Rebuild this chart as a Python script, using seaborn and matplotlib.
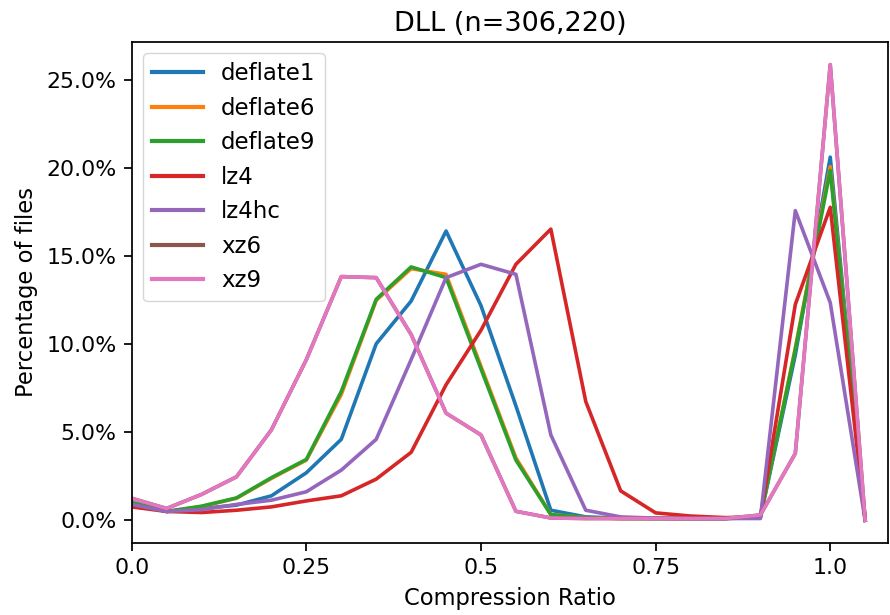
import matplotlib
matplotlib.use("Agg")
import matplotlib.pyplot as plt
from matplotlib.ticker import PercentFormatter
import seaborn as sns
import pandas as pd

ratios = [0.0, 0.05, 0.1, 0.15, 0.2, 0.25, 0.3, 0.35, 0.4, 0.45, 0.5,
          0.55, 0.6, 0.65, 0.7, 0.75, 0.8, 0.85, 0.9, 0.95, 1.0, 1.05]

deflate1 = [1.0, 0.5, 0.67, 0.86, 1.39, 2.7, 4.6, 10.03, 12.46, 16.44, 12.2,
            6.5, 0.57, 0.19, 0.12, 0.1, 0.1, 0.1, 0.15, 9.4, 20.64, 0.0]
deflate6 = [1.0, 0.5, 0.78, 1.25, 2.38, 3.42, 7.15, 12.5, 14.3, 13.98, 8.75,
            3.55, 0.33, 0.15, 0.1, 0.1, 0.1, 0.1, 0.2, 9.8, 20.1, 0.0]
deflate9 = [1.0, 0.5, 0.8, 1.27, 2.42, 3.46, 7.32, 12.56, 14.4, 13.79, 8.6,
            3.42, 0.32, 0.15, 0.1, 0.1, 0.1, 0.1, 0.2, 9.7, 19.88, 0.0]
lz4 = [0.76, 0.5, 0.44, 0.57, 0.76, 1.1, 1.39, 2.34, 3.86, 7.7, 10.8,
       14.55, 16.55, 6.75, 1.67, 0.42, 0.24, 0.15, 0.2, 12.27, 17.79, 0.0]
lz4hc = [0.9, 0.5, 0.6, 0.9, 1.14, 1.62, 2.85, 4.6, 9.13, 13.79, 14.55,
         13.98, 4.85, 0.57, 0.19, 0.12, 0.1, 0.1, 0.1, 17.6, 12.37, 0.0]
xz6 = [1.25, 0.67, 1.47, 2.47, 5.14, 9.13, 13.85, 13.79, 10.56, 6.09, 4.85,
       0.51, 0.13, 0.1, 0.1, 0.1, 0.1, 0.1, 0.3, 3.8, 25.9, 0.0]
xz9 = [1.25, 0.67, 1.47, 2.47, 5.14, 9.13, 13.85, 13.79, 10.56, 6.09, 4.85,
       0.51, 0.13, 0.1, 0.1, 0.1, 0.1, 0.1, 0.3, 3.8, 25.9, 0.0]

names = ["deflate1", "deflate6", "deflate9", "lz4", "lz4hc", "xz6", "xz9"]
series = [deflate1, deflate6, deflate9, lz4, lz4hc, xz6, xz9]

x_ticks = [0.0, 0.25, 0.5, 0.75, 1.0]
x_tick_labels = ["0.0", "0.25", "0.5", "0.75", "1.0"]

title = "DLL (n=306,220)"
x_label = "Compression Ratio"
y_label = "Percentage of files"

rows = []
for name, vals in zip(names, series):
    for r, v in zip(ratios, vals):
        rows.append({"ratio": r, "pct": v / 100.0, "algo": name})
df = pd.DataFrame(rows)

plt.rcParams["font.family"] = ["DejaVu Sans"]
fig = plt.figure(figsize=(8.9, 6.15), dpi=100)
ax = fig.add_axes([0.148, 0.117, 0.850, 0.815])

palette = sns.color_palette("tab10", len(names))
sns.lineplot(data=df, x="ratio", y="pct", hue="algo", hue_order=names,
             palette=palette, linewidth=2.6, ax=ax)

ax.set_xlim(0, 1.083)
ax.set_xticks(x_ticks)
ax.set_xticklabels(x_tick_labels)
ax.yaxis.set_major_formatter(PercentFormatter(1.0, decimals=1))
ax.set_yticks([0, 0.05, 0.10, 0.15, 0.20, 0.25])

ax.tick_params(labelsize=15.8, length=5.5, width=1.26, pad=5.5)
for sp in ax.spines.values():
    sp.set_linewidth(1.26)

ax.set_xlabel(x_label, fontsize=16.3, labelpad=6.0)
ax.set_ylabel(y_label, fontsize=16.3, labelpad=6.0)
ax.set_title(title, fontsize=19.5, pad=8)

handles, labels = ax.get_legend_handles_labels()
leg = ax.legend(handles, labels, loc="upper left", fontsize=16.5, title=None,
                handlelength=2.2)
for ln in leg.get_lines():
    ln.set_linewidth(3.0)

fig.savefig("out.png", dpi=100)
